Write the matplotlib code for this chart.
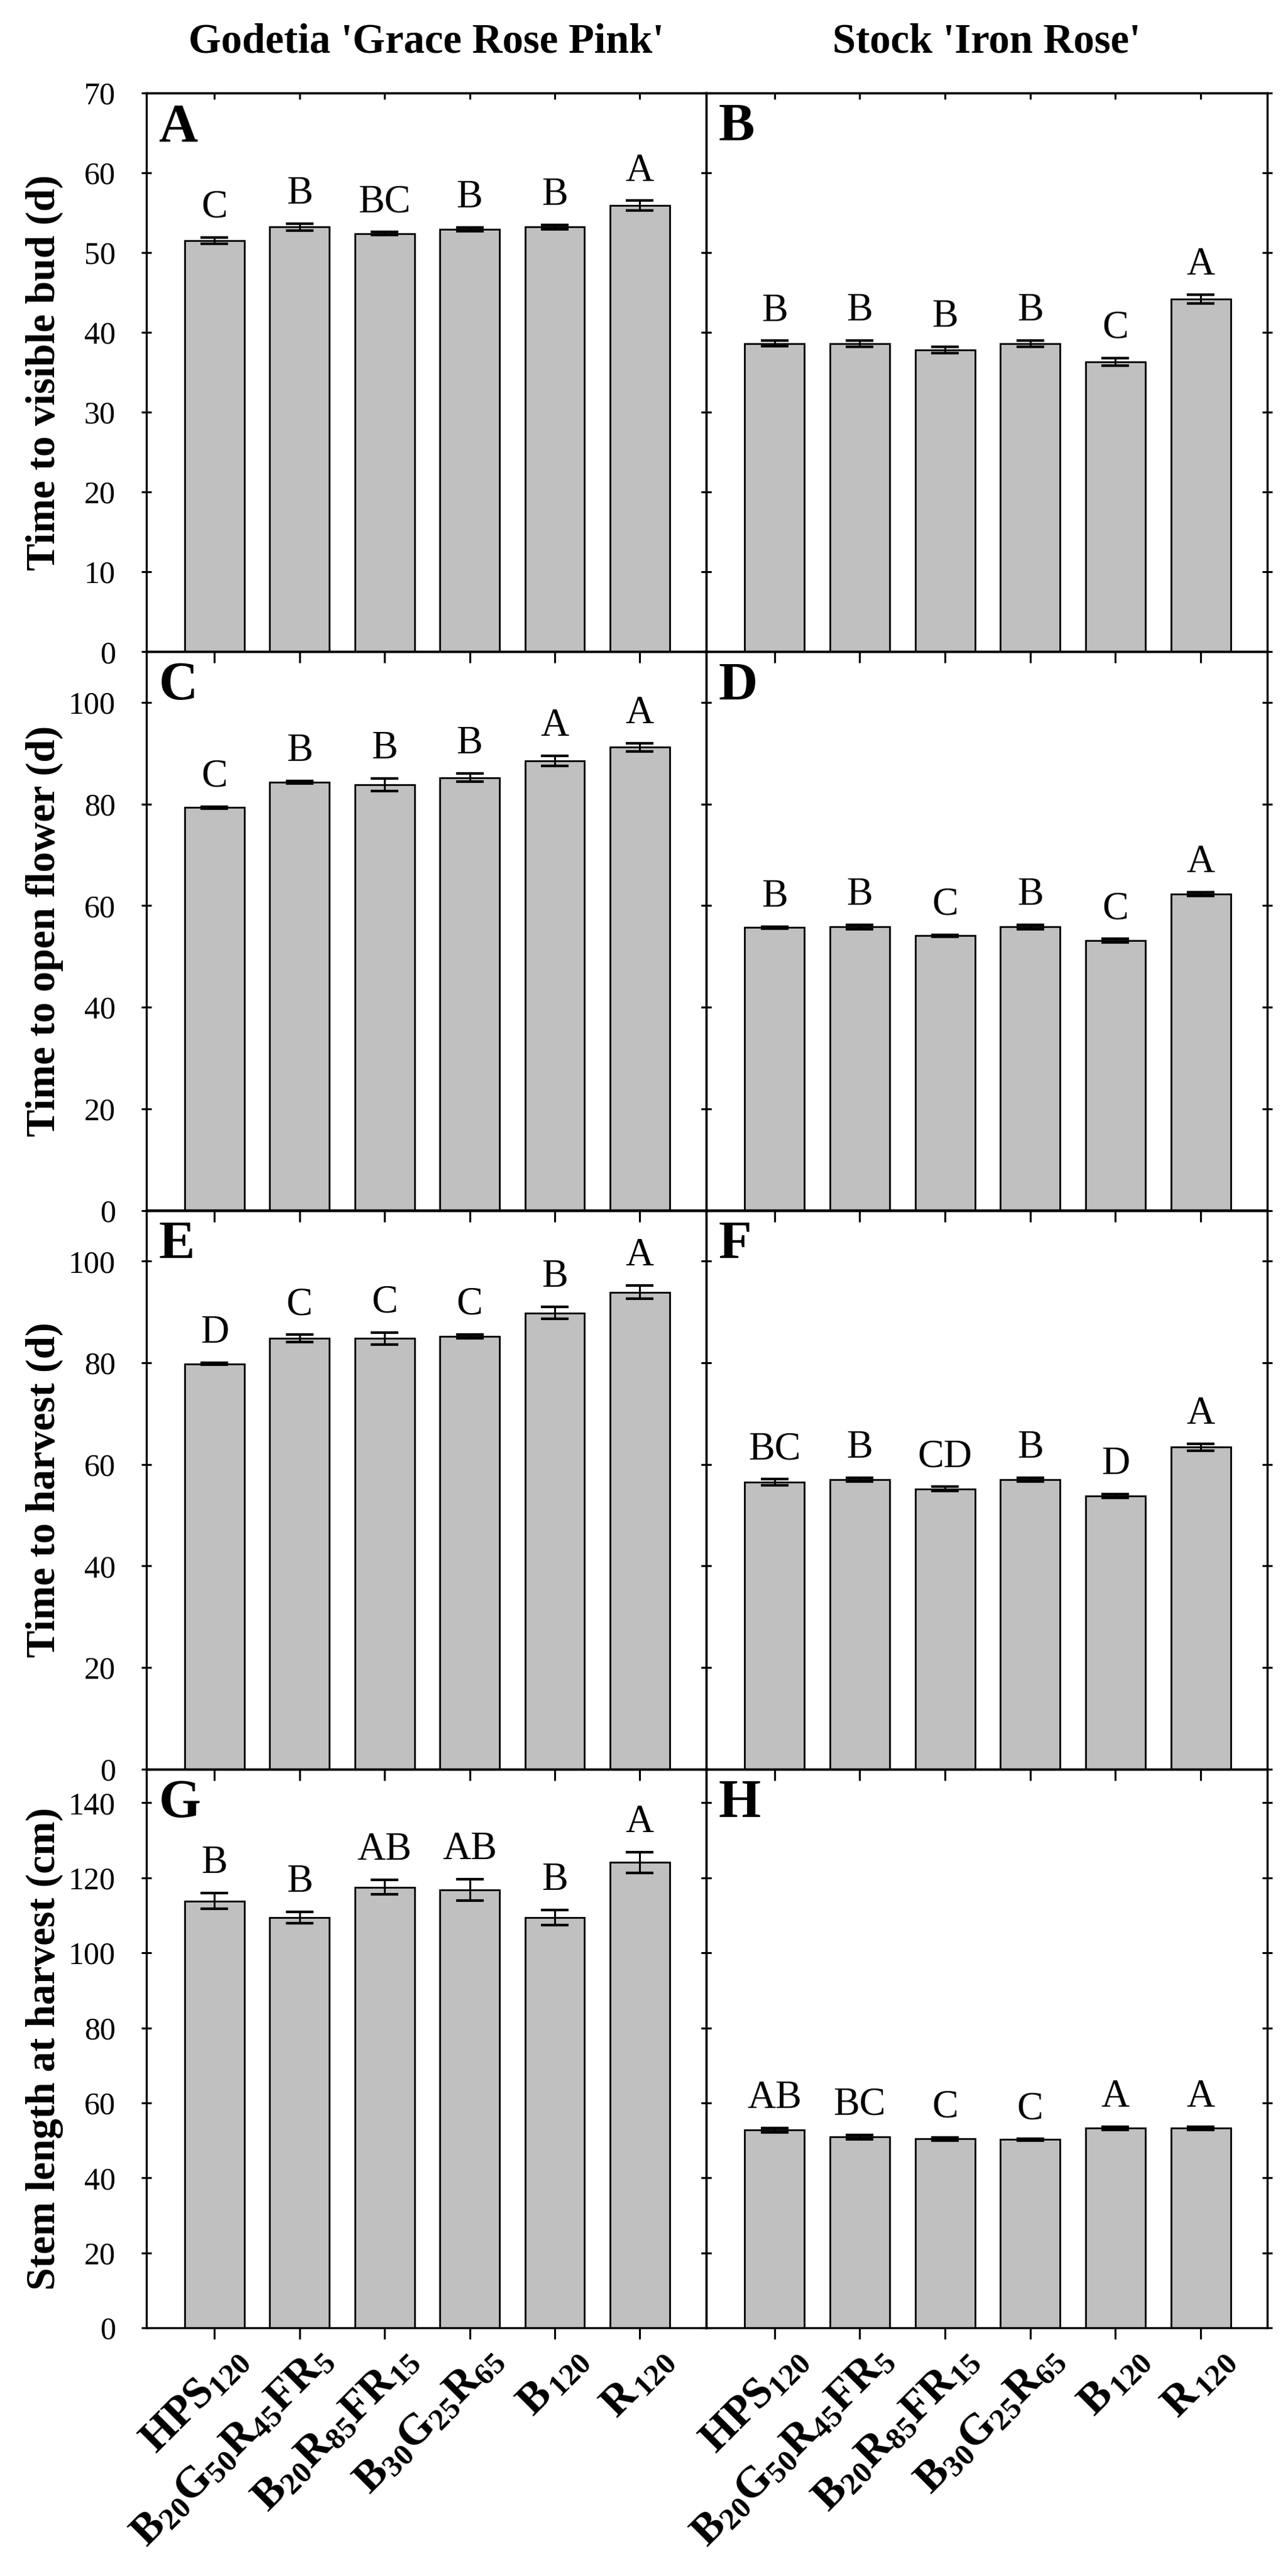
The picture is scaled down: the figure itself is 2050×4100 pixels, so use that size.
import matplotlib
matplotlib.use("Agg")
import matplotlib.pyplot as plt
from matplotlib.transforms import ScaledTranslation
import numpy as np

plt.rcParams['font.family'] = ['Liberation Serif', 'DejaVu Serif']
plt.rcParams['mathtext.fontset'] = 'custom'
plt.rcParams['mathtext.rm'] = 'Liberation Serif'
plt.rcParams['mathtext.bf'] = 'Liberation Serif:bold'
plt.rcParams['mathtext.it'] = 'Liberation Serif:italic'

# ---------------- data ----------------
treatments = ["HPS120", "B20G50R45FR5", "B20R85FR15", "B30G25R65", "B120", "R120"]
tick_labels = [
    r"$\mathbf{HPS}_{\mathbf{120}}$",
    r"$\mathbf{B}_{\mathbf{20}}\mathbf{G}_{\mathbf{50}}\mathbf{R}_{\mathbf{45}}\mathbf{FR}_{\mathbf{5}}$",
    r"$\mathbf{B}_{\mathbf{20}}\mathbf{R}_{\mathbf{85}}\mathbf{FR}_{\mathbf{15}}$",
    r"$\mathbf{B}_{\mathbf{30}}\mathbf{G}_{\mathbf{25}}\mathbf{R}_{\mathbf{65}}$",
    r"$\mathbf{B}_{\,\mathbf{120}}$",
    r"$\mathbf{R}_{\,\mathbf{120}}$",
]
column_titles = ["Godetia 'Grace Rose Pink'", "Stock 'Iron Rose'"]
row_ylabels = ["Time to visible bud (d)", "Time to open flower (d)",
               "Time to harvest (d)", "Stem length at harvest (cm)"]
row_ylim = [70, 110, 110, 149]
row_ticks = [[0, 10, 20, 30, 40, 50, 60, 70],
             [0, 20, 40, 60, 80, 100],
             [0, 20, 40, 60, 80, 100],
             [0, 20, 40, 60, 80, 100, 120, 140]]
panel_letters = [["A", "B"], ["C", "D"], ["E", "F"], ["G", "H"]]

godetia_bud = [51.5, 53.2, 52.4, 52.9, 53.2, 55.9]
godetia_bud_se = [0.4, 0.4, 0.2, 0.25, 0.25, 0.6]
godetia_bud_sig = ["C", "B", "BC", "B", "B", "A"]
stock_bud = [38.6, 38.6, 37.8, 38.6, 36.3, 44.2]
stock_bud_se = [0.35, 0.4, 0.4, 0.4, 0.5, 0.55]
stock_bud_sig = ["B", "B", "B", "B", "C", "A"]

godetia_open = [79.3, 84.3, 83.8, 85.2, 88.5, 91.2]
godetia_open_se = [0.2, 0.3, 1.2, 0.8, 1.0, 0.8]
godetia_open_sig = ["C", "B", "B", "B", "A", "A"]
stock_open = [55.7, 55.8, 54.1, 55.8, 53.1, 62.3]
stock_open_se = [0.2, 0.4, 0.2, 0.4, 0.4, 0.4]
stock_open_sig = ["B", "B", "C", "B", "C", "A"]

godetia_harvest = [79.8, 84.8, 84.8, 85.2, 89.8, 93.9]
godetia_harvest_se = [0.2, 0.75, 1.2, 0.4, 1.2, 1.3]
godetia_harvest_sig = ["D", "C", "C", "C", "B", "A"]
stock_harvest = [56.5, 57.0, 55.2, 57.0, 53.8, 63.4]
stock_harvest_se = [0.6, 0.4, 0.4, 0.4, 0.4, 0.7]
stock_harvest_sig = ["BC", "B", "CD", "B", "D", "A"]

godetia_stem = [113.8, 109.4, 117.5, 116.8, 109.4, 124.1]
godetia_stem_se = [2.1, 1.5, 1.9, 2.9, 2.0, 2.8]
godetia_stem_sig = ["B", "B", "AB", "AB", "B", "A"]
stock_stem = [52.7, 50.9, 50.4, 50.2, 53.2, 53.2]
stock_stem_se = [0.6, 0.6, 0.4, 0.2, 0.4, 0.4]
stock_stem_sig = ["AB", "BC", "C", "C", "A", "A"]

panels = [
    [(godetia_bud, godetia_bud_se, godetia_bud_sig), (stock_bud, stock_bud_se, stock_bud_sig)],
    [(godetia_open, godetia_open_se, godetia_open_sig), (stock_open, stock_open_se, stock_open_sig)],
    [(godetia_harvest, godetia_harvest_se, godetia_harvest_sig), (stock_harvest, stock_harvest_se, stock_harvest_sig)],
    [(godetia_stem, godetia_stem_se, godetia_stem_sig), (stock_stem, stock_stem_se, stock_stem_sig)],
]

# ---------------- layout ----------------
W, H = 2050, 4100
fig = plt.figure(figsize=(W / 100, H / 100), dpi=100)
fig.patch.set_facecolor('white')

col_x = [233, 1124]
col_w = [891, 893]
top0, bottom_last = 148, 3705
ph = (bottom_last - top0) / 4.0

x = np.arange(len(treatments))
bar_color = '#c0c0c0'

for r in range(4):
    for c in range(2):
        top = top0 + r * ph
        ax = fig.add_axes([col_x[c] / W, 1 - (top + ph) / H, col_w[c] / W, ph / H])
        ax.patch.set_alpha(0)
        vals, se, sig = panels[r][c]
        ax.bar(x, vals, width=0.7, color=bar_color, edgecolor='black',
               linewidth=2.0, zorder=2)
        ax.errorbar(x, vals, yerr=se, fmt='none', ecolor='black',
                    elinewidth=2.2, capsize=15.5, capthick=3.0, zorder=3)
        for i in range(len(x)):
            ax.annotate(sig[i], xy=(x[i], vals[i] + se[i]), xytext=(0, 23),
                        textcoords='offset points', ha='center', va='baseline',
                        fontsize=45, zorder=4)
        ax.set_xlim(-0.8, 5.78)
        ax.set_ylim(0, row_ylim[r])
        ax.set_yticks(row_ticks[r])
        ax.set_xticks(x)
        for s in ax.spines.values():
            s.set_linewidth(2.4)
        ax.tick_params(axis='y', direction='inout', length=11, width=2.2,
                       left=True, right=True, labelleft=(c == 0),
                       labelright=False, labelsize=36, pad=30)
        ax.tick_params(axis='x', direction='out', length=13, width=2.2,
                       bottom=True, top=False, labelbottom=(r == 3), pad=25)
        sec = ax.secondary_xaxis('top')
        sec.set_xticks(x)
        sec.tick_params(axis='x', direction='in', length=7, width=2.2,
                        labeltop=False)
        sec.spines['top'].set_linewidth(2.4)

        ax.text(0.022, 0.982, panel_letters[r][c], transform=ax.transAxes,
                fontsize=62, fontweight='bold', ha='left', va='top', zorder=5)

        if c == 0:
            ax.set_ylabel(row_ylabels[r], fontsize=47, fontweight='bold')
            ax.yaxis.set_label_coords(-0.148, 0.5)
        if r == 0:
            fig.text((col_x[c] + col_w[c] / 2) / W, 1 - 84 / H, column_titles[c],
                     ha='center', va='baseline', fontsize=48, fontweight='bold')
        if r == 3:
            ax.set_xticklabels(tick_labels, fontsize=50)
            for lbl in ax.get_xticklabels():
                lbl.set_rotation(45)
                lbl.set_ha('right')
                lbl.set_va('baseline')
                lbl.set_rotation_mode('anchor')
                lbl.set_transform(lbl.get_transform() +
                                  ScaledTranslation(0.54, 0, fig.dpi_scale_trans))

fig.savefig("out.png", dpi=100, facecolor='white')
